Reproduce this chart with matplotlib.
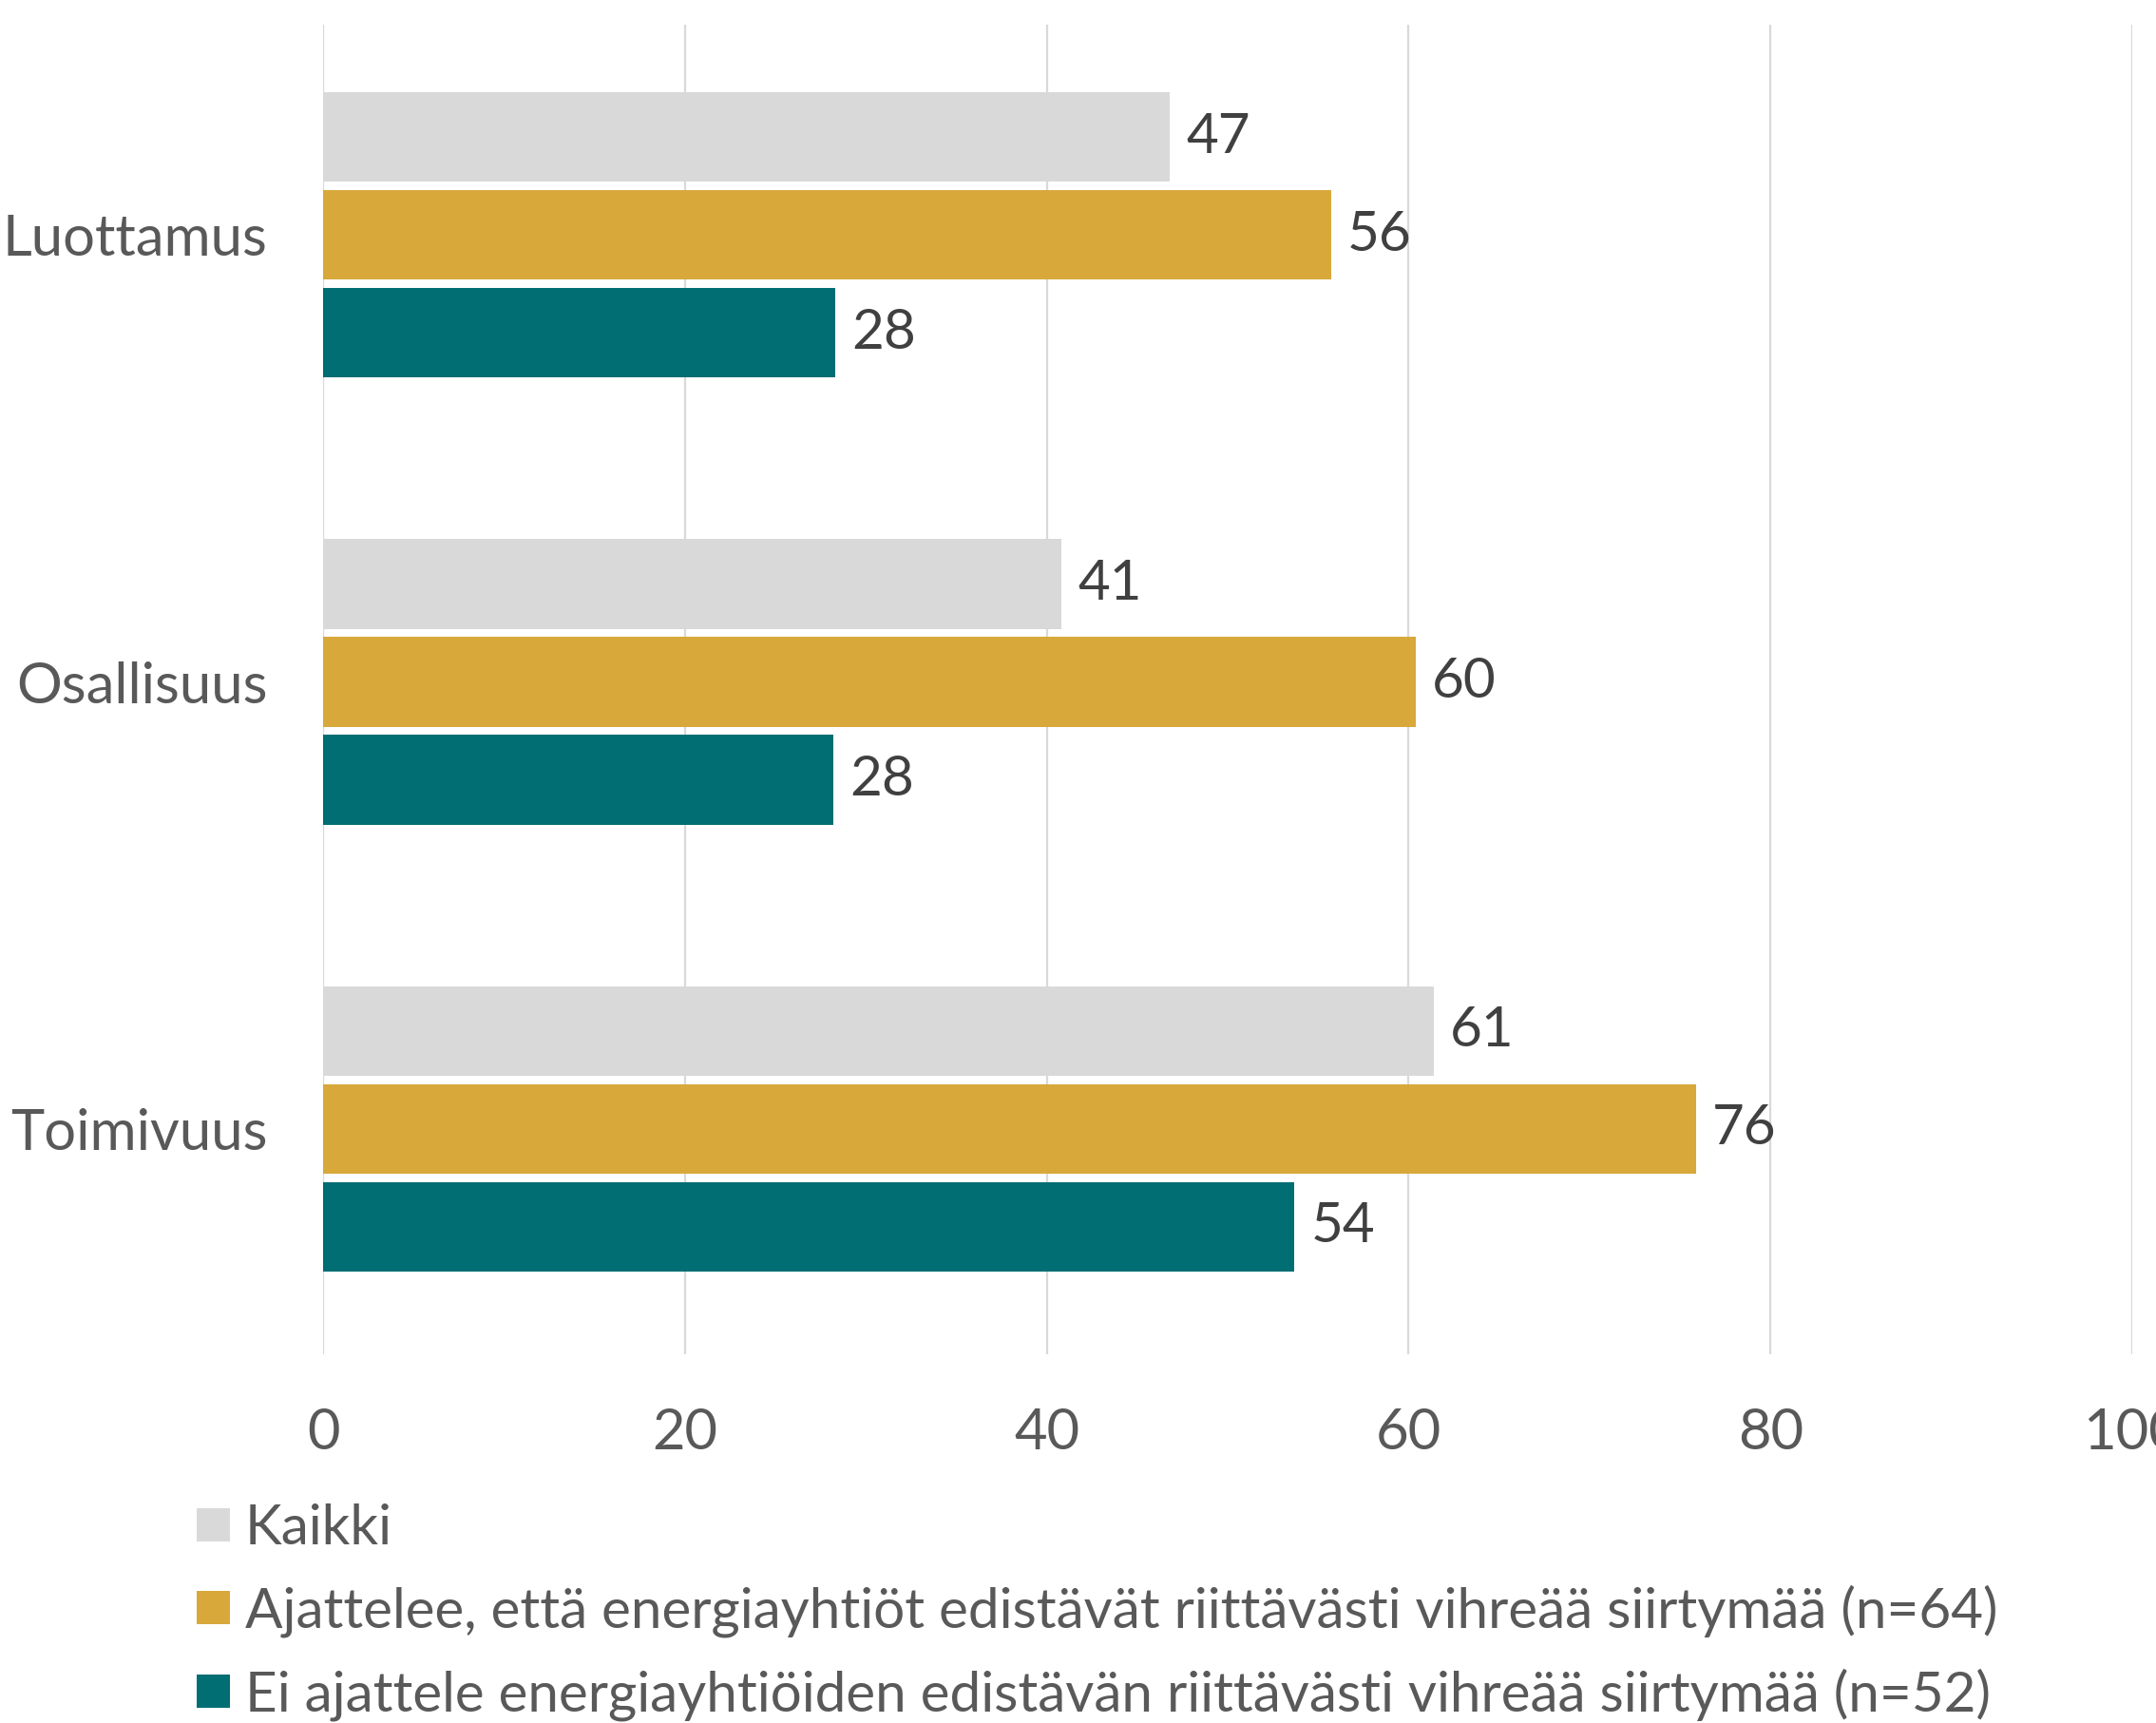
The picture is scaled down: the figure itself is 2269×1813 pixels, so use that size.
import matplotlib
matplotlib.use("Agg")
import matplotlib.pyplot as plt
import numpy as np
from matplotlib.patches import Patch

categories = ["Luottamus", "Osallisuus", "Toimivuus"]
series_names = [
    "Kaikki",
    "Ajattelee, että energiayhtiöt edistävät riittävästi vihreää siirtymää (n=64)",
    "Ei ajattele energiayhtiöiden edistävän riittävästi vihreää siirtymää (n=52)",
]
kaikki = [46.8, 40.8, 61.4]
ajattelee = [55.7, 60.4, 75.9]
ei_ajattele = [28.3, 28.2, 53.7]
x_ticks = [0, 20, 40, 60, 80, 100]

colors = ["#D9D9D9", "#D8A83B", "#006E73"]
plt.rcParams['font.family'] = ['Lato', 'DejaVu Sans']

fig = plt.figure(figsize=(22.69, 18.13), dpi=100)
W, H = 2269, 1813
left, right = 340 / W, 2244 / W
top, bottom = 1 - 26 / H, 1 - 1425 / H
ax = fig.add_axes([left, bottom, right - left, top - bottom])

y = np.arange(len(categories))
offset = 0.219
height = 0.2
all_series = [kaikki, ajattelee, ei_ajattele]
for i, (vals, col) in enumerate(zip(all_series, colors)):
    pos = y + (i - 1) * offset
    ax.barh(pos, vals, height=height, color=col, zorder=2)
    for p, v in zip(pos, vals):
        ax.text(v + 0.9, p, f"{round(v):d}", va='center', ha='left',
                fontsize=42, color='#404040')

ax.set_xlim(0, 100)
ax.set_ylim(2.504, -0.47)
ax.set_xticks(x_ticks)
ax.set_xticklabels([str(t) for t in x_ticks])
ax.set_yticks(y)
ax.set_yticklabels(categories)
ax.tick_params(axis='x', length=0, pad=40, labelsize=43, labelcolor='#595959')
ax.tick_params(axis='y', length=0, pad=42, labelsize=43, labelcolor='#595959')
ax.grid(axis='x', color='#D9D9D9', linewidth=1.6, zorder=0)
ax.set_axisbelow(True)
for s in ax.spines.values():
    s.set_visible(False)

handles = [Patch(facecolor=c, edgecolor='none') for c in colors]
fig.legend(handles, series_names, loc='upper left',
           bbox_to_anchor=(207 / W, 1 - 1582 / H), frameon=False,
           fontsize=42, labelcolor='#595959', borderpad=0, borderaxespad=0,
           handlelength=0.6, handleheight=0.56, handletextpad=0.27,
           labelspacing=0.55)

fig.savefig("out.png", dpi=100)
